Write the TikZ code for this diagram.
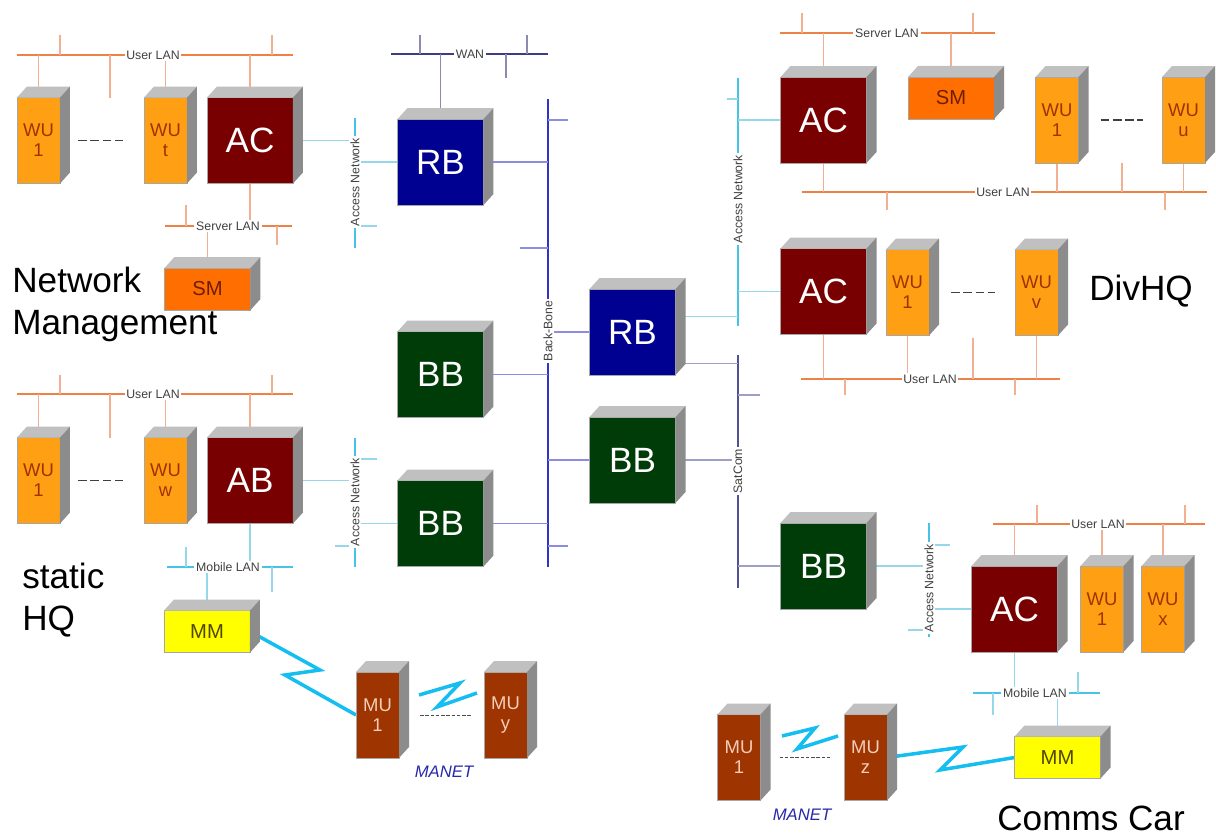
\documentclass[tikz,border=0pt]{standalone}
\usepackage{fontspec}
\setmainfont{Liberation Sans}
\usetikzlibrary{calc,backgrounds}

\definecolor{wucol}{RGB}{255,160,20}
\definecolor{wutxt}{RGB}{160,50,0}
\definecolor{accol}{RGB}{120,0,0}
\definecolor{rbcol}{RGB}{0,0,145}
\definecolor{bbcol}{RGB}{0,60,8}
\definecolor{smcol}{RGB}{255,110,0}
\definecolor{smtxt}{RGB}{110,30,0}
\definecolor{mmcol}{RGB}{255,255,0}
\definecolor{mmtxt}{RGB}{80,70,0}
\definecolor{mucol}{RGB}{158,52,0}
\definecolor{mutxt}{RGB}{245,205,185}
\definecolor{topgray}{RGB}{192,192,192}
\definecolor{sidegray}{RGB}{140,140,140}
\definecolor{lanorange}{RGB}{236,130,70}
\definecolor{stuborange}{RGB}{242,175,145}
\definecolor{netcyan}{RGB}{70,195,230}
\definecolor{stubcyan}{RGB}{150,215,235}
\definecolor{bonecol}{RGB}{50,50,200}
\definecolor{stubblue}{RGB}{140,140,225}
\definecolor{wancol}{RGB}{60,60,130}
\definecolor{satcol}{RGB}{80,80,150}
\definecolor{boltcol}{RGB}{20,190,240}
\definecolor{manetcol}{RGB}{40,40,170}

\tikzset{
  unit/.style={inner sep=0pt, outer sep=0pt, draw=gray!70, line width=0.3pt, align=center},
  cube/.style={unit, fill=#1, minimum width=1.72cm, minimum height=1.72cm,
    text=white, font=\fontsize{20}{22}\selectfont},
  tower/.style={unit, fill=#1, minimum width=0.86cm, minimum height=1.72cm,
    font=\fontsize{10.5}{11.5}\selectfont},
  slab/.style={unit, fill=#1, minimum width=1.72cm, minimum height=0.84cm,
    font=\fontsize{11.5}{12}\selectfont},
  wu/.style={tower=wucol, text=wutxt},
  mu/.style={tower=mucol, text=mutxt},
  sm/.style={slab=smcol, text=smtxt},
  mm/.style={slab=mmcol, text=mmtxt},
  bigtxt/.style={inner sep=0pt, align=left, font=\fontsize{20}{24}\selectfont},
  manet/.style={font=\fontsize{9.5}{10}\selectfont\itshape, text=manetcol},
  lanlbl/.style={fill=white, inner sep=1pt, text=black!75, font=\fontsize{7}{7}\selectfont},
  vlbl/.style={lanlbl, rotate=90},
  ubus/.style={lanorange, line width=1.1pt},
  ustub/.style={stuborange, line width=0.6pt},
  abus/.style={netcyan, line width=1.1pt},
  astub/.style={stubcyan, line width=0.6pt},
  bbus/.style={bonecol, line width=1.1pt},
  bstub/.style={stubblue, line width=0.6pt},
  wbus/.style={wancol, line width=1.1pt},
  wstub/.style={wancol!60, line width=0.6pt},
  sbus/.style={satcol, line width=1.1pt},
  sstub/.style={satcol!55, line width=0.6pt},
  bolt/.style={boltcol, line width=2pt, line join=miter},
  more/.style={black!75, line width=1.1pt, dash pattern=on 5pt off 2pt},
  manetlink/.style={black!70, line width=0.5pt, dash pattern=on 2pt off 1pt}
}

\begin{document}
\begin{tikzpicture}[x=0.02cm, y=-0.02cm]
\useasboundingbox (0,0) rectangle (1216,837);

% Network Management
\node[wu] (wua1) at (38.5,140.5) {WU\\1};
\node[wu] (wuat) at (165.5,140.5) {WU\\t};
\node[cube=accol] (aca) at (250,140.5) {AC};
\node[sm] (sma) at (207.5,289) {SM};
\node[bigtxt, anchor=north west] (netmgmt) at (12,267) {Network\\Management};

% static HQ
\node[wu] (wub1) at (38.5,480.5) {WU\\1};
\node[wu] (wubw) at (165.5,480.5) {WU\\w};
\node[cube=accol] (abb) at (250,480.5) {AB};
\node[mm] (mmb) at (207,631.5) {MM};
\node[mu] (mub1) at (377.5,715) {MU\\1};
\node[mu] (muby) at (505.5,715) {MU\\y};
\node[manet] (manetb) at (444,772) {MANET};
\node[bigtxt, anchor=north west] (statichq) at (22,563) {static\\HQ};

% core
\node[cube=rbcol] (rba) at (440.5,162) {RB};
\node[cube=bbcol] (bba) at (440.5,374.5) {BB};
\node[cube=bbcol] (bbb) at (440.5,523.5) {BB};
\node[cube=rbcol] (rbm) at (632.5,332) {RB};
\node[cube=bbcol] (bbm) at (632.5,460) {BB};

% DivHQ
\node[cube=accol] (acc) at (823.5,120) {AC};
\node[sm] (smc) at (951,98) {SM};
\node[wu] (wuc1) at (1057,120) {WU\\1};
\node[wu] (wucu) at (1183.5,120) {WU\\u};
\node[cube=accol] (acd) at (823.5,291.5) {AC};
\node[wu] (wud1) at (907.5,292.5) {WU\\1};
\node[wu] (wudv) at (1036.5,292.5) {WU\\v};
\node[bigtxt, anchor=base west] (divhq) at (1089,301) {DivHQ};

% Comms Car
\node[cube=bbcol] (bbe) at (823.5,566) {BB};
\node[cube=accol] (ace) at (1014.5,609) {AC};
\node[wu] (wue1) at (1102,609) {WU\\1};
\node[wu] (wuex) at (1163,609) {WU\\x};
\node[mm] (mme) at (1057.5,757.5) {MM};
\node[mu] (mue1) at (739,757.5) {MU\\1};
\node[mu] (muez) at (865.5,757.5) {MU\\z};
\node[manet] (manete) at (802,815) {MANET};
\node[bigtxt, anchor=base west] (commscar) at (997,830) {Comms Car};

% 3d faces
\foreach \nd in {wua1,wuat,aca,sma,wub1,wubw,abb,mmb,mub1,muby,rba,bba,bbb,rbm,bbm,
    acc,smc,wuc1,wucu,acd,wud1,wudv,bbe,ace,wue1,wuex,mme,mue1,muez} {
  \fill[topgray] (\nd.north west) -- ++(10,-11) -- ($(\nd.north east)+(10,-11)$) -- (\nd.north east) -- cycle;
  \fill[sidegray] (\nd.north east) -- ++(10,-11) -- ($(\nd.south east)+(10,-11)$) -- (\nd.south east) -- cycle;
}

% network labels
\node[lanlbl] (ulana) at (153,55) {User LAN};
\node[lanlbl] (slana) at (228,226) {Server LAN};
\node[lanlbl] (wan) at (470,54) {WAN};
\node[vlbl] (aneta) at (355,182) {Access Network};
\node[lanlbl] (ulanb) at (153,394) {User LAN};
\node[lanlbl] (mlanb) at (228,567) {Mobile LAN};
\node[vlbl] (anetb) at (355,502) {Access Network};
\node[vlbl] (bone) at (548,331) {Back-Bone};
\node[vlbl] (satcom) at (738,471) {SatCom};
\node[lanlbl] (slanc) at (887,33) {Server LAN};
\node[lanlbl] (ulanc) at (1003,192) {User LAN};
\node[vlbl] (anetc) at (738,199) {Access Network};
\node[lanlbl] (uland) at (930,379) {User LAN};
\node[lanlbl] (ulane) at (1098,524) {User LAN};
\node[lanlbl] (mlane) at (1035,693) {Mobile LAN};
\node[vlbl] (anete) at (929,588) {Access Network};

% dots between units
\draw[more, shorten <=0.36cm, shorten >=0.42cm] (wua1) -- (wuat);
\draw[more, shorten <=0.36cm, shorten >=0.42cm] (wub1) -- (wubw);
\draw[more, shorten <=0.44cm, shorten >=0.38cm] (wuc1) -- (wucu);
\draw[more, shorten <=0.44cm, shorten >=0.40cm] (wud1) -- (wudv);

\begin{scope}[on background layer]
\fill[white] (0,0) rectangle (1216,837);
% network management LANs
\draw[ubus] (17,55) -- (293,55);
\foreach \x in {60,272} \draw[ustub] (\x,35) -- (\x,55);
\draw[ustub] (110,55) -- (110,98);
\foreach \nd in {wua1,wuat,aca} \draw[ustub] (\nd) -- (\nd |- ulana);
\draw[ubus] (165,226) -- (292,226);
\draw[ustub] (186,205) -- (186,226);
\draw[ustub] (277,226) -- (277,245);
\foreach \nd in {aca,sma} \draw[ustub] (\nd) -- (\nd |- slana);
\draw[abus] (355,118) -- (355,248);
\draw[astub] (355,226) -- (377,226);
\foreach \nd in {aca,rba} \draw[astub] (\nd) -- (\nd -| aneta);
% WAN
\draw[wbus] (391,54) -- (548,54);
\foreach \x in {420,527} \draw[wstub] (\x,35) -- (\x,54);
\draw[wstub] (506,54) -- (506,78);
\draw[wstub] (rba) -- (rba |- wan);
% back-bone
\draw[bbus] (548,99) -- (548,567);
\draw[bstub] (548,120) -- (568,120);
\draw[bstub] (520,248) -- (548,248);
\draw[bstub] (548,546) -- (568,546);
\foreach \nd in {rba,bba,bbb,rbm,bbm} \draw[bstub] (\nd) -- (\nd -| bone);
% static HQ LANs
\draw[ubus] (17,394) -- (293,394);
\foreach \x in {60,272} \draw[ustub] (\x,375) -- (\x,394);
\draw[ustub] (110,394) -- (110,438);
\foreach \nd in {wub1,wubw,abb} \draw[ustub] (\nd) -- (\nd |- ulanb);
\draw[abus] (355,438) -- (355,567);
\draw[astub] (355,459) -- (377,459);
\draw[astub] (335,546) -- (355,546);
\foreach \nd in {abb,bbb} \draw[astub] (\nd) -- (\nd -| anetb);
\draw[abus] (167,567) -- (293,567);
\draw[astub] (186,547) -- (186,567);
\draw[astub] (272,567) -- (272,592);
\foreach \nd in {abb,mmb} \draw[astub] (\nd) -- (\nd |- mlanb);
\draw[bolt] (mmb.east) -- (320,670) -- (285,675) -- (mub1.west);
\draw[bolt] (419,695) -- (460,683) -- (437,707) -- (477,693);
\draw[manetlink, shorten <=0.42cm, shorten >=0.26cm] (mub1) -- (muby);
% SatCom
\draw[sbus] (738,355) -- (738,588);
\draw[sstub] (738,395) -- (760,395);
\foreach \nd in {bbm,bbe} \draw[sstub] (\nd) -- (\nd -| satcom);
\draw[sstub] (rbm.-36) -- (rbm.-36 -| satcom);
% DivHQ LANs
\draw[abus] (738,78) -- (738,326);
\draw[astub] (727,99) -- (738,99);
\foreach \nd in {acc,acd} \draw[astub] (\nd) -- (\nd -| anetc);
\draw[astub] (rbm.20) -- (rbm.20 -| anetc);
\draw[ubus] (780,33) -- (995,33);
\foreach \x in {802,973} \draw[ustub] (\x,13) -- (\x,33);
\foreach \nd in {acc,smc} \draw[ustub] (\nd) -- (\nd |- slanc);
\draw[ubus] (802,192) -- (1207,192);
\draw[ustub] (1122,163) -- (1122,192);
\foreach \x in {887,1165} \draw[ustub] (\x,192) -- (\x,210);
\foreach \nd in {acc,wuc1,wucu} \draw[ustub] (\nd) -- (\nd |- ulanc);
\draw[ubus] (801,379) -- (1060,379);
\draw[ustub] (973,338) -- (973,379);
\foreach \x in {845,1015} \draw[ustub] (\x,379) -- (\x,395);
\foreach \nd in {acd,wud1,wudv} \draw[ustub] (\nd) -- (\nd |- uland);
% Comms Car LANs
\draw[abus] (929,523) -- (929,637);
\draw[astub] (929,545) -- (950,545);
\draw[astub] (908,630) -- (929,630);
\foreach \nd in {bbe,ace} \draw[astub] (\nd) -- (\nd -| anete);
\draw[ubus] (993,524) -- (1205,524);
\foreach \x in {1037,1185} \draw[ustub] (\x,505) -- (\x,524);
\foreach \nd in {ace,wue1,wuex} \draw[ustub] (\nd) -- (\nd |- ulane);
\draw[abus] (973,693) -- (1100,693);
\draw[astub] (1078,672) -- (1078,693);
\draw[astub] (993,693) -- (993,715);
\foreach \nd in {ace,mme} \draw[astub] (\nd) -- (\nd |- mlane);
\draw[bolt] (muez.east) -- (963,747) -- (940,770) -- (mme.west);
\draw[bolt] (782,736) -- (815,728) -- (797,749) -- (838,736);
\draw[manetlink, shorten <=0.38cm, shorten >=0.28cm] (mue1) -- (muez);
\end{scope}
\end{tikzpicture}
\end{document}
